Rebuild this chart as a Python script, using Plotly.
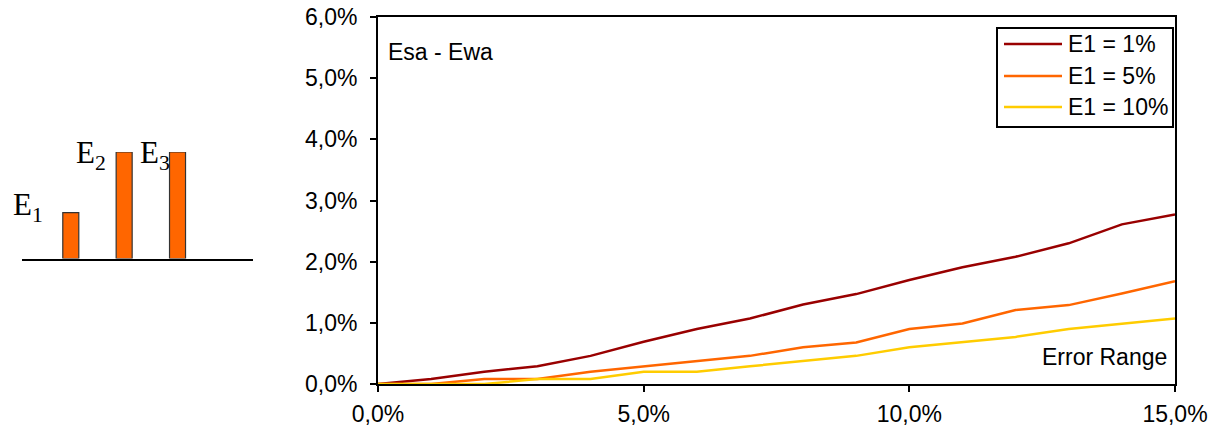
import plotly.graph_objects as go

# Error range on the x axis (percent)
error_range = [0, 1, 2, 3, 4, 5, 6, 7, 8, 9, 10, 11, 12, 13, 14, 15]

# Esa - Ewa difference (percent) for each E1 level
esa_ewa_e1_1 = [0, 0.08, 0.20, 0.29, 0.46, 0.69, 0.90, 1.07, 1.30, 1.47, 1.70, 1.91, 2.08, 2.30, 2.61, 2.77]
esa_ewa_e1_5 = [0, 0.00, 0.08, 0.08, 0.20, 0.29, 0.38, 0.46, 0.60, 0.68, 0.90, 0.99, 1.21, 1.29, 1.48, 1.68]
esa_ewa_e1_10 = [0, 0.00, 0.00, 0.08, 0.08, 0.20, 0.20, 0.29, 0.38, 0.46, 0.60, 0.68, 0.77, 0.90, 0.99, 1.07]

series_names = ["E1 = 1%", "E1 = 5%", "E1 = 10%"]
series_colors = ["#990000", "#FF6600", "#FFCC00"]

# Schematic of the three energies
energy_positions = [1, 2, 3]
energy_heights = [0.43, 1.0, 1.0]
energy_labels = ["E<sub>1</sub>", "E<sub>2</sub>", "E<sub>3</sub>"]

W, H = 1208, 428
SANS = "Arial, Liberation Sans, sans-serif"
SERIF = "Times New Roman, Liberation Serif, serif"


def px_x(x):
    return x / W


def px_y(y):
    return (H - y) / H


fig = go.Figure()

for name, color, ys in zip(series_names, series_colors,
                           [esa_ewa_e1_1, esa_ewa_e1_5, esa_ewa_e1_10]):
    fig.add_trace(go.Scatter(
        x=error_range, y=ys, mode="lines", name=name,
        line=dict(color=color, width=2.5),
        xaxis="x", yaxis="y", showlegend=False,
    ))

fig.add_trace(go.Bar(
    x=energy_positions, y=energy_heights, width=0.3,
    marker=dict(color="#FF6600", line=dict(color="#333333", width=1.2)),
    xaxis="x2", yaxis="y2", showlegend=False,
))

axis_common = dict(
    showline=True, linecolor="black", linewidth=2, mirror=True,
    ticks="outside", ticklen=6, tickwidth=2, tickcolor="black",
    showgrid=False, zeroline=False, automargin=False,
    tickfont=dict(family=SANS, size=23, color="black"),
    tickformat=".1f", ticksuffix="%",
)

fig.update_layout(
    template="none",
    width=W, height=H,
    margin=dict(l=0, r=0, t=0, b=0, autoexpand=False),
    paper_bgcolor="white", plot_bgcolor="white",
    separators=",.",
    font=dict(family=SANS, size=23, color="black"),
    xaxis=dict(domain=[px_x(378), px_x(1175)], range=[0, 15], dtick=5, tick0=0,
               ticklabelstandoff=2, **axis_common),
    yaxis=dict(domain=[px_y(384), px_y(17)], range=[0, 6], dtick=1, tick0=0,
               ticklabelstandoff=8, **axis_common),
    xaxis2=dict(domain=[px_x(21.7), px_x(253.3)], range=[0.08, 4.42], anchor="y2",
                showline=True, linecolor="black", linewidth=2, automargin=False,
                showticklabels=False, ticks="", showgrid=False, zeroline=False),
    yaxis2=dict(domain=[px_y(258.5), px_y(152)], range=[0, 1], anchor="x2",
                visible=False, automargin=False),
    showlegend=False,
)

# Legend box with a line sample and label per series
fig.add_shape(type="rect", xref="paper", yref="paper",
              x0=px_x(997), x1=px_x(1173), y0=px_y(127), y1=px_y(28),
              line=dict(color="black", width=2), fillcolor="white", layer="above")
legend_rows = [44, 76, 107]
for name, color, ry in zip(series_names, series_colors, legend_rows):
    fig.add_shape(type="line", xref="paper", yref="paper",
                  x0=px_x(1004), x1=px_x(1062), y0=px_y(ry), y1=px_y(ry),
                  line=dict(color=color, width=2.5), layer="above")
    fig.add_annotation(text=name, xref="paper", yref="paper",
                       x=px_x(1066), y=px_y(ry), xanchor="left", yanchor="middle",
                       showarrow=False, font=dict(family=SANS, size=23, color="black"))

fig.add_annotation(text="Esa - Ewa", xref="paper", yref="paper",
                   x=px_x(386), y=px_y(52), xanchor="left", yanchor="middle",
                   showarrow=False, font=dict(family=SANS, size=23, color="black"))
fig.add_annotation(text="Error Range", xref="paper", yref="paper",
                   x=px_x(1169), y=px_y(357), xanchor="right", yanchor="middle",
                   showarrow=False, font=dict(family=SANS, size=23, color="black"))

label_anchor = [(11, 207), (74, 155), (138, 155)]
for txt, (lx, ly) in zip(energy_labels, label_anchor):
    fig.add_annotation(text=txt, xref="paper", yref="paper",
                       x=px_x(lx), y=px_y(ly), xanchor="left", yanchor="middle",
                       showarrow=False,
                       font=dict(family=SERIF, size=31, color="black"))

fig.write_html("out.html")
